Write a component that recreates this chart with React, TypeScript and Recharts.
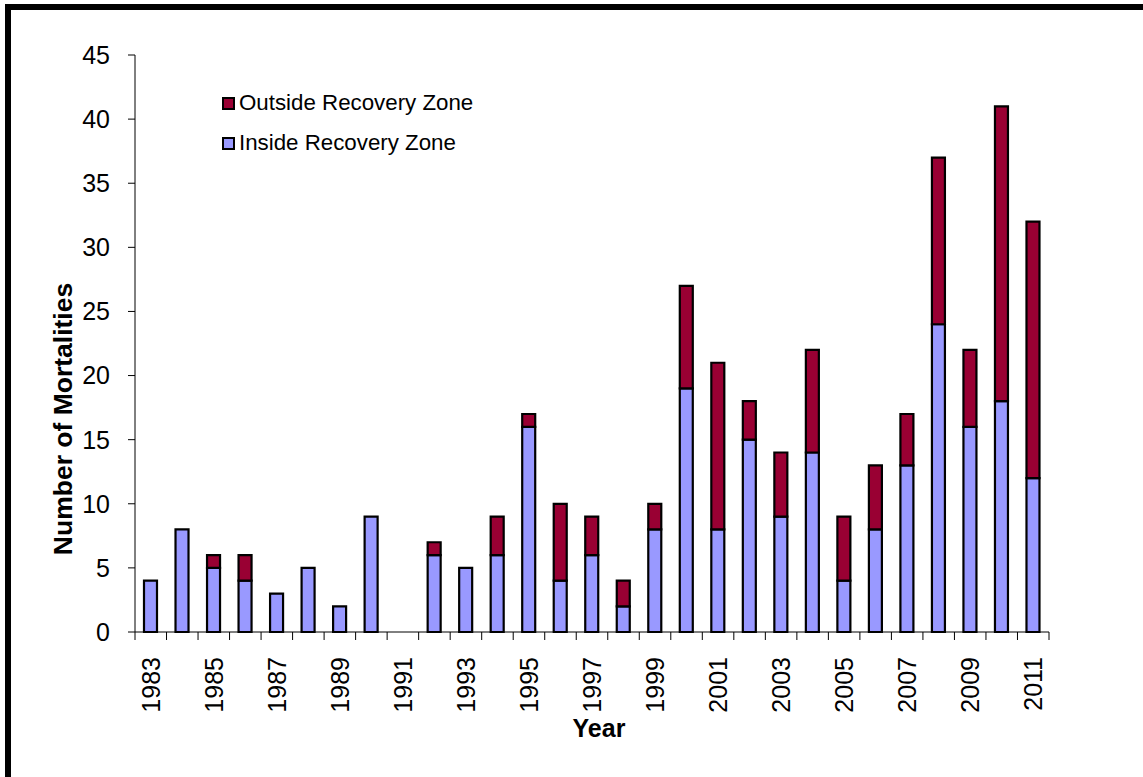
import React from 'react';
import { BarChart, Bar, XAxis, YAxis } from 'recharts';

const years = ['1983','1984','1985','1986','1987','1988','1989','1990','1991','1992','1993','1994','1995','1996','1997','1998','1999','2000','2001','2002','2003','2004','2005','2006','2007','2008','2009','2010','2011'];
const insideZone = [4,8,5,4,3,5,2,9,0,6,5,6,16,4,6,2,8,19,8,15,9,14,4,8,13,24,16,18,12];
const outsideZone = [0,0,1,2,0,0,0,0,0,1,0,3,1,6,3,2,2,8,13,3,5,8,5,5,4,13,6,23,20];
const yTicks = [0,5,10,15,20,25,30,35,40,45];

const data = years.map((y, i) => ({ year: y, inside: insideZone[i], outside: outsideZone[i] }));

const W = 1143;
const H = 777;
const M = { top: 55, right: 94, left: 0, bottom: 0 };
const Y_W = 135;
const PLOT_W = W - M.left - M.right - Y_W;
const BAND = PLOT_W / years.length;
const FONT = 'Arial, "Liberation Sans", sans-serif';

const XTick = (props: any) => {
  const { x, y, payload, index } = props;
  const half = BAND / 2;
  const isLast = index === years.length - 1;
  return (
    <g>
      <line x1={x - half} x2={x - half} y1={y} y2={y + 8} stroke="#000" strokeWidth={1} />
      {isLast && <line x1={x + half} x2={x + half} y1={y} y2={y + 8} stroke="#000" strokeWidth={1} />}
      {index % 2 === 0 && (
        <text
          x={x}
          y={y + 25}
          transform={`rotate(-90, ${x}, ${y + 25})`}
          textAnchor="end"
          dominantBaseline="central"
          fontSize={25}
          fontFamily={FONT}
          fill="#000"
        >
          {payload.value}
        </text>
      )}
    </g>
  );
};

const legendItems = [
  { name: 'Outside Recovery Zone', color: '#990033' },
  { name: 'Inside Recovery Zone', color: '#9999FF' },
];

const LegendBox = () => (
  <div style={{ position: 'absolute', left: 222, top: 83, fontFamily: FONT, fontSize: 22.3, color: '#000', lineHeight: 1 }}>
    {legendItems.map((it) => (
      <div key={it.name} style={{ display: 'flex', alignItems: 'center', height: 40 }}>
        <span style={{ display: 'inline-block', width: 9, height: 9, background: it.color, border: '2px solid #000', marginRight: 4 }} />
        <span>{it.name}</span>
      </div>
    ))}
  </div>
);

export default function App() {
  return (
    <div style={{ position: 'fixed', left: 0, top: 0, width: W, height: H, overflow: 'hidden', background: '#fff' }}>
      <div style={{ position: 'absolute', left: 5, top: 4, width: W + 50, height: H + 50, borderTop: '6px solid #000', borderLeft: '6px solid #000' }} />
      <div style={{ position: 'absolute', left: 0, top: 0 }}>
        <BarChart width={W} height={H} data={data} margin={M} barSize={13}>
          <XAxis
            dataKey="year"
            interval={0}
            tickLine={false}
            tickSize={0}
            tickMargin={0}
            height={H - 632}
            axisLine={{ stroke: '#000', strokeWidth: 1 }}
            tick={<XTick />}
            label={{ value: 'Year', position: 'insideBottom', offset: 40, dx: 7, fontSize: 25, fontWeight: 'bold', fontFamily: FONT, fill: '#000' }}
          />
          <YAxis
            width={Y_W}
            domain={[0, 45]}
            ticks={yTicks}
            interval={0}
            tickSize={7}
            tickMargin={18}
            axisLine={{ stroke: '#000', strokeWidth: 1 }}
            tickLine={{ stroke: '#000', strokeWidth: 1 }}
            tick={{ fontSize: 25, fontFamily: FONT, fill: '#000' }}
            label={{
              content: () => (
                <text x={63} y={419} transform="rotate(-90, 63, 419)" textAnchor="middle" dominantBaseline="central" fontSize={26.5} fontWeight="bold" fontFamily={FONT} fill="#000">
                  Number of Mortalities
                </text>
              ),
            }}
          />
          <Bar dataKey="inside" name="Inside Recovery Zone" stackId="a" fill="#9999FF" stroke="#000" strokeWidth={2.2} isAnimationActive={false} />
          <Bar dataKey="outside" name="Outside Recovery Zone" stackId="a" fill="#990033" stroke="#000" strokeWidth={2.2} isAnimationActive={false} />
        </BarChart>
      </div>
      <LegendBox />
    </div>
  );
}
